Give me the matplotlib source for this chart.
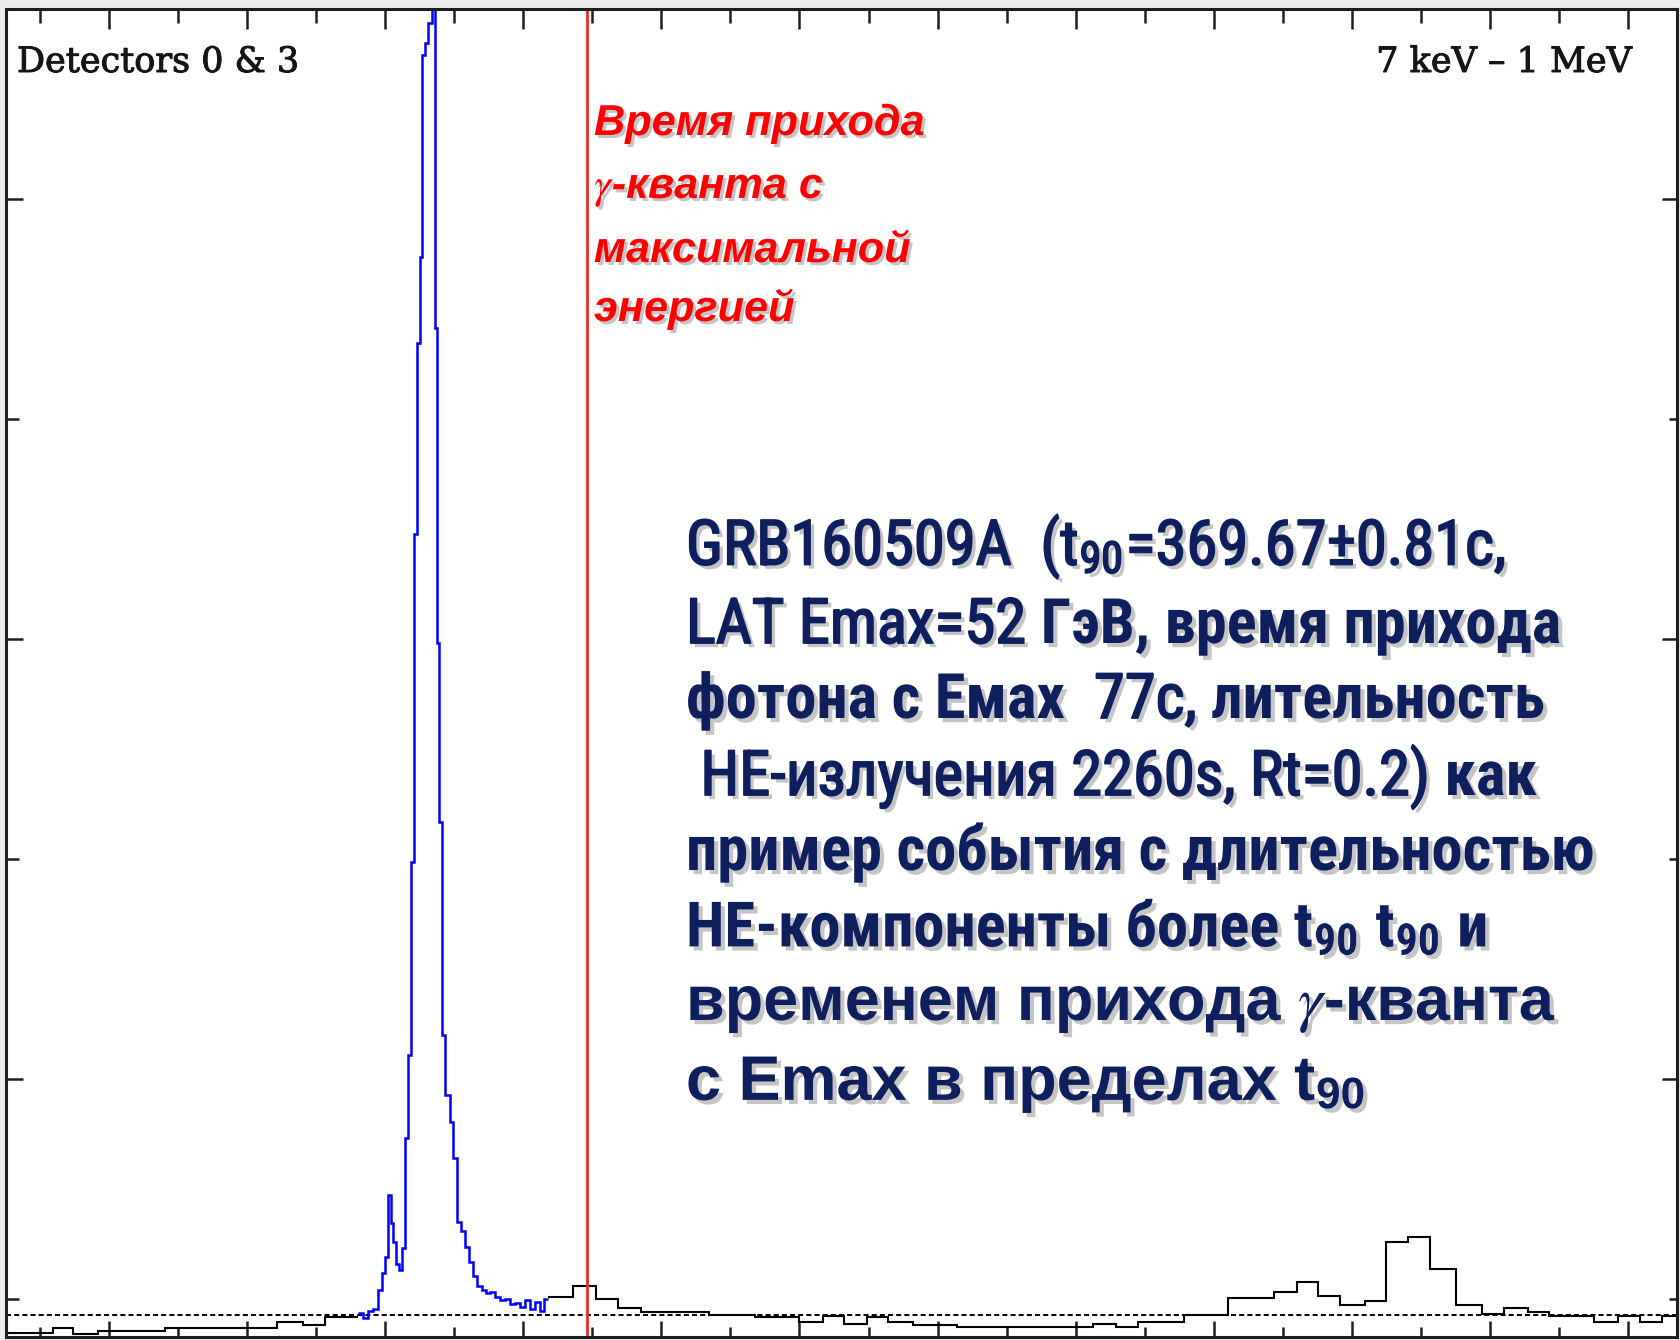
import matplotlib
matplotlib.use("Agg")
import matplotlib.pyplot as plt
from matplotlib import patheffects as pe
from matplotlib import font_manager
from matplotlib.ticker import MultipleLocator

# GRB 160509A light curve, detectors 0 & 3, 7 keV - 1 MeV
# time in s from trigger, rate in counts/s

# coarse bins before the burst
pre_edges = [-140.0, -116.3, -109.1, -100.0, -75.8, -35.2, -25.8, -17.9, -5.9]
pre_rate = [1690, 1735, 1680, 1710, 1735, 1790, 1765, 1835]

# fine bins over the burst
burst_edges = [-5.9, -4.1, -2.3, -0.5, 1.3, 2.8, 3.9, 4.9, 6.0, 6.8, 7.8, 8.9,
               10.0, 11.1, 12.2, 13.3, 14.4, 15.4, 16.5, 17.3, 18.3, 19.4, 20.9,
               22.0, 22.7, 23.4, 24.5, 25.6, 27.4, 28.5, 29.9, 31.4, 32.8, 34.3,
               35.7, 37.2, 39.0, 40.4, 41.9, 43.7, 45.5, 47.3, 49.1, 50.9, 52.7,
               54.6, 56.4, 58.2, 60.0, 61.4, 62.9]
burst_rate = [1873, 1827, 1891, 1909, 2082, 2236, 2382, 2945, 2691, 2518, 2318,
              2264, 2464, 3464, 4218, 5973, 8955, 10691, 11473, 13309, 13418,
              13600, 14173, 10827, 7964, 6336, 4400, 3855, 3609, 3282, 2700,
              2618, 2473, 2336, 2209, 2118, 2082, 2055, 2064, 2018, 1991, 2000,
              1955, 1964, 1927, 1991, 1909, 1973, 1891, 2000]

# coarse bins after the burst
post_edges = [62.9, 71.9, 80.3, 88.2, 96.6, 121.2, 137.8, 153.8, 162.4, 170.0,
              178.4, 186.0, 195.0, 211.0, 260.2, 268.5, 276.5, 293.1, 309.1,
              325.7, 334.1, 341.7, 349.6, 358.7, 366.3, 374.2, 382.2, 391.6,
              401.0, 409.0, 417.7, 425.3, 441.6, 450.3, 458.2, 466.2, 476.4]
post_rate = [2018, 2118, 2000, 1918, 1882, 1855, 1836, 1791, 1845, 1773, 1836,
             1791, 1764, 1741, 1773, 1741, 1791, 1859, 2009, 2064, 2155, 2027,
             1945, 1982, 2518, 2564, 2273, 1945, 1864, 1918, 1882, 1845, 1791,
             1845, 1791, 1845]

background_rate = 1855
t_emax = 77.0  # arrival time of the highest-energy LAT photon

label_left = "Detectors 0 & 3"
label_right = "7 keV – 1 MeV"
red_lines = ["Время прихода", r"$\gamma$-кванта с", "максимальной", "энергией"]

T90 = r"t$_{\mathregular{90}}$"
# each line: list of (text, weight, spaces before the piece)
info_narrow = [
    [("GRB160509A  (" + T90 + "=369.67±0.81с,", "normal", 0)],
    [("LAT Emax=52", "normal", 0), ("ГэВ, время прихода", "bold", 1)],
    [("фотона с Емах", "bold", 0), ("77с,", "normal", 2), ("лительность", "bold", 1)],
    [("HE-излучения 2260s, Rt=0.2)", "normal", 1), ("как", "bold", 1)],
    [("пример события с длительностью", "bold", 0)],
    [("HE-компоненты более " + T90 + " " + T90 + " и", "bold", 0)],
]
info_wide = [
    r"временем прихода $\gamma$-кванта",
    "с Emax в пределах " + T90,
]

W, H, DPI = 1681, 1340, 100
plt.rcParams["mathtext.fontset"] = "stix"

installed = {f.name for f in font_manager.fontManager.ttflist}
narrow_family = next((f for f in ["Liberation Sans Narrow", "Arial Narrow",
                                  "Roboto Condensed", "Open Sans Condensed",
                                  "Noto Sans Condensed"] if f in installed),
                     "Liberation Sans")

fig = plt.figure(figsize=(W / DPI, H / DPI), dpi=DPI, facecolor="#ececec")
ax = fig.add_axes([6.5 / W, 3.5 / H, 1671 / W, 1328 / H])
ax.set_facecolor("white")
ax.set_xlim(-133.2, 471.8)
ax.set_ylim(1659, 13732)

ax.axhline(background_rate, color="black", lw=1.4, ls=(0, (2.6, 1.6)), zorder=2)
ax.stairs(pre_rate, pre_edges, baseline=None, color="black", lw=1.5, zorder=3)
ax.stairs(post_rate, post_edges, baseline=None, color="black", lw=1.5, zorder=3)
ax.stairs(burst_rate, burst_edges, baseline=None, color="#0000ff", lw=1.8, zorder=4)
ax.axvline(t_emax, color="#f02828", lw=2.0, zorder=5)

frame_col = "#1e1e1e"
for s in ax.spines.values():
    s.set_linewidth(2.2)
    s.set_color(frame_col)
    s.set_zorder(6)

ax.xaxis.set_major_locator(MultipleLocator(50, offset=3.9))
ax.xaxis.set_minor_locator(MultipleLocator(25, offset=3.9))
ax.yaxis.set_major_locator(MultipleLocator(4000))
ax.yaxis.set_minor_locator(MultipleLocator(2000))
ax.tick_params(which="both", direction="in", labelbottom=False, labelleft=False,
               color=frame_col, width=1.8)
ax.tick_params(axis="x", which="major", length=11.5)
ax.tick_params(axis="x", which="minor", length=7.2)
ax.tick_params(axis="y", which="major", length=12)
ax.tick_params(axis="y", which="minor", length=9)

top = ax.secondary_xaxis("top")
top.xaxis.set_major_locator(MultipleLocator(50, offset=3.9))
top.xaxis.set_minor_locator(MultipleLocator(25, offset=3.9))
top.tick_params(which="both", direction="in", labeltop=False, color=frame_col, width=1.8)
top.tick_params(which="major", length=15)
top.tick_params(which="minor", length=10.5)
for s in top.spines.values():
    s.set_visible(False)

right = ax.secondary_yaxis("right")
right.yaxis.set_major_locator(MultipleLocator(4000))
right.yaxis.set_minor_locator(MultipleLocator(2000))
right.tick_params(which="both", direction="in", labelright=False, color=frame_col, width=1.8)
right.tick_params(which="major", length=11.5)
right.tick_params(which="minor", length=6.5)
for s in right.spines.values():
    s.set_visible(False)


def fpos(x, y):
    return x / W, 1 - y / H


def shadow(off=2.5, alpha=0.5):
    return [pe.withSimplePatchShadow(offset=(off, -off), shadow_rgbFace="#808080", alpha=alpha)]


def shadow_heavy(color, lw, off=3, alpha=0.45):
    # shadow, then the glyphs thickened by an outline of their own colour
    return [pe.SimplePatchShadow(offset=(off, -off), shadow_rgbFace="#808080", alpha=alpha),
            pe.Stroke(linewidth=lw, foreground=color), pe.Normal()]


renderer = fig.canvas.get_renderer()


def width_px(t):
    return t.get_window_extent(renderer).width


def fit_width(texts, ref, target_px):
    k = target_px / width_px(ref)
    for t in texts:
        t.set_fontsize(t.get_fontsize() * k)


head_col = "#151515"
head_fx = [pe.Stroke(linewidth=0.7, foreground=head_col), pe.Normal()]
t_left = fig.text(*fpos(17, 72), label_left, ha="left", va="baseline",
                  family="DejaVu Serif", fontsize=24, color=head_col, path_effects=head_fx)
t_right = fig.text(*fpos(1632, 72), label_right, ha="right", va="baseline",
                   family="DejaVu Serif", fontsize=24, color=head_col, path_effects=head_fx)
fit_width([t_left], t_left, 283)
fit_width([t_right], t_right, 256)

red_texts = []
for line, yb in zip(red_lines, [135, 198, 262, 321]):
    red_texts.append(fig.text(*fpos(594, yb), line, ha="left", va="baseline",
                              family="Liberation Sans", weight="bold", style="italic",
                              fontsize=31, color="#ff0000", path_effects=shadow(2.2, 0.45)))
fit_width(red_texts, red_texts[0], 330)

navy = "#0f1f5e"

# font size for the condensed block, set from the longest all-bold line
probe = fig.text(0, 0, info_narrow[4][0][0], family=narrow_family, weight="bold", fontsize=45)
narrow_size = 45 * 909 / width_px(probe)
probe.remove()


def space_px(weight):
    a = fig.text(0, 0, "n n", family=narrow_family, weight=weight, fontsize=narrow_size)
    b = fig.text(0, 0, "nn", family=narrow_family, weight=weight, fontsize=narrow_size)
    w = width_px(a) - width_px(b)
    a.remove()
    b.remove()
    return w


space = {"normal": space_px("normal"), "bold": space_px("bold")}
effects = {"normal": shadow_heavy(navy, 1.3), "bold": shadow(3, 0.45)}

for pieces, yb in zip(info_narrow, [565, 643, 718, 795, 870, 947]):
    x = 686.0
    for s, wgt, nsp in pieces:
        x += nsp * space[wgt]
        t = fig.text(*fpos(x, yb), s, ha="left", va="baseline", family=narrow_family,
                     weight=wgt, fontsize=narrow_size, color=navy,
                     path_effects=effects[wgt])
        x = t.get_window_extent(renderer).x1

wide_texts = []
for line, yb in zip(info_wide, [1020, 1100]):
    wide_texts.append(fig.text(*fpos(686, yb), line, ha="left", va="baseline",
                               family="Liberation Sans", weight="bold", fontsize=46,
                               color=navy, path_effects=shadow(3, 0.45)))
fit_width(wide_texts, wide_texts[0], 870)

fig.savefig("out.png", dpi=DPI, facecolor=fig.get_facecolor())
